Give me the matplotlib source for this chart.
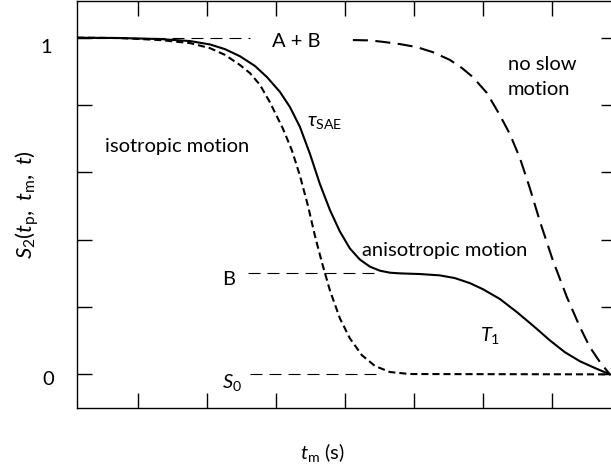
#!/usr/bin/env python3
"""
Schematic decay of the order parameter S2(tp, tm, t) against mixing
time tm, for isotropic, anisotropic and no slow motion.

Writes: out.png
"""

import matplotlib
matplotlib.use("Agg")
import matplotlib.pyplot as plt

plt.rcParams["font.family"] = ["Lato", "DejaVu Sans"]
plt.rcParams["mathtext.fontset"] = "custom"
plt.rcParams["mathtext.rm"] = "Lato"
plt.rcParams["mathtext.it"] = "Lato:italic"
plt.rcParams["mathtext.bf"] = "Lato:bold"

# mixing time axis (arbitrary log units, ticks at 1..7)
TM_TICKS = [1, 2, 3, 4, 5, 6, 7]
S_TICKS = [0.0, 0.2, 0.4, 0.6, 0.8, 1.0]

# plateau levels
LEVEL_AB = 1.0
LEVEL_B = 0.3
LEVEL_S0 = 0.0

# anisotropic motion (solid): 1 -> B via tau_SAE, B -> 0 via T1
aniso_tm = [0.116, 0.739, 1.319, 1.754, 2.043, 2.261, 2.478, 2.696, 2.870,
            3.058, 3.203, 3.348, 3.493, 3.638, 3.783, 3.928, 4.072, 4.217,
            4.362, 4.507, 4.652, 4.797, 5.087, 5.377, 5.594, 5.812, 6.000,
            6.246, 6.493, 6.754, 6.971, 7.188, 7.406, 7.623, 7.841]
aniso_s = [1.000, 0.999, 0.996, 0.990, 0.980, 0.966, 0.945, 0.916, 0.883,
           0.839, 0.794, 0.735, 0.655, 0.565, 0.488, 0.424, 0.374, 0.341,
           0.320, 0.308, 0.302, 0.300, 0.298, 0.294, 0.286, 0.271, 0.253,
           0.224, 0.185, 0.140, 0.101, 0.066, 0.039, 0.019, 0.000]

# isotropic motion (short dashes): straight down to S0
iso_tm = [0.116, 0.739, 1.319, 1.754, 2.043, 2.261, 2.478, 2.623, 2.768,
          2.913, 3.101, 3.232, 3.348, 3.464, 3.565, 3.667, 3.783, 3.928,
          4.072, 4.246, 4.435, 4.652, 4.942, 7.841]
iso_s = [1.000, 0.999, 0.993, 0.984, 0.969, 0.949, 0.919, 0.895, 0.860,
         0.808, 0.730, 0.665, 0.590, 0.501, 0.412, 0.332, 0.249, 0.166,
         0.107, 0.057, 0.025, 0.007, 0.001, 0.000]

# no slow motion (long dashes): only the T1 decay
still_tm = [4.116, 4.362, 4.580, 4.797, 5.043, 5.275, 5.522, 5.696, 5.855,
            6.058, 6.246, 6.391, 6.536, 6.681, 6.826, 7.014, 7.217, 7.406,
            7.551, 7.696, 7.841]
still_s = [0.993, 0.992, 0.987, 0.981, 0.972, 0.957, 0.934, 0.910, 0.883,
           0.836, 0.770, 0.714, 0.643, 0.553, 0.455, 0.339, 0.230, 0.141,
           0.081, 0.037, 0.000]

FS = 14.5
CURVE_LW = 1.5
GUIDE_LW = 0.8


def main():
    fig = plt.figure(figsize=(6.11, 4.74), dpi=100)
    ax = fig.add_axes([77 / 611, 66.3 / 474, 539 / 611, 406.7 / 474])

    ax.plot(aniso_tm, aniso_s, color="black", lw=CURVE_LW)
    ax.plot(iso_tm, iso_s, color="black", lw=CURVE_LW,
            linestyle=(0, (3.4, 1.9)))
    ax.plot(still_tm, still_s, color="black", lw=CURVE_LW,
            linestyle=(0, (7.2, 3.6)))

    # dashed guides marking the plateau levels
    guide = dict(color="black", lw=GUIDE_LW, linestyle=(0, (10.8, 6.3)))
    ax.plot([0.116, 2.62], [LEVEL_AB, LEVEL_AB], **guide)
    ax.plot([2.59, 4.51], [LEVEL_B, LEVEL_B], **guide)
    ax.plot([2.62, 4.5], [LEVEL_S0, LEVEL_S0], **guide)

    ax.set_xlim(0.116, 7.93)
    ax.set_ylim(-0.099, 1.109)
    ax.set_xticks(TM_TICKS)
    ax.set_yticks(S_TICKS)
    ax.set_xticklabels([])
    ax.set_yticklabels([])
    ax.tick_params(direction="in", length=10.8, width=1.0,
                   top=True, right=True)
    for sp in ax.spines.values():
        sp.set_linewidth(1.0)

    ax.text(-0.246, 0.954, "1", ha="right", va="baseline", fontsize=FS)
    ax.text(-0.22, -0.032, "0", ha="right", va="baseline", fontsize=FS)

    ax.text(0.522, 0.660, "isotropic motion", fontsize=FS, va="baseline")
    ax.text(2.942, 0.972, "A + B", fontsize=FS, va="baseline")
    ax.text(3.449, 0.739, r"$\tau_{\rm SAE}$", fontsize=FS, va="baseline")
    ax.text(6.362, 0.830, "no slow\nmotion", fontsize=FS, va="baseline",
            linespacing=1.6)
    ax.text(4.246, 0.351, "anisotropic motion", fontsize=FS, va="baseline")
    ax.text(2.217, 0.265, "B", fontsize=FS, va="baseline")
    ax.text(2.217, -0.041, r"$S_0$", fontsize=FS, va="baseline")
    ax.text(5.957, 0.100, r"$T_1$", fontsize=FS, va="baseline")

    ax.set_ylabel(r"$S_2(t_{\rm p},\ t_{\rm m},\ t)$", fontsize=16,
                  va="center")
    ax.yaxis.set_label_coords(-0.093, 0.50)
    ax.set_xlabel(r"$t_{\rm m}$ (s)", fontsize=FS, va="center")
    ax.xaxis.set_label_coords(0.455, -0.111)

    fig.savefig("out.png", dpi=100)
    plt.close(fig)


if __name__ == "__main__":
    main()
